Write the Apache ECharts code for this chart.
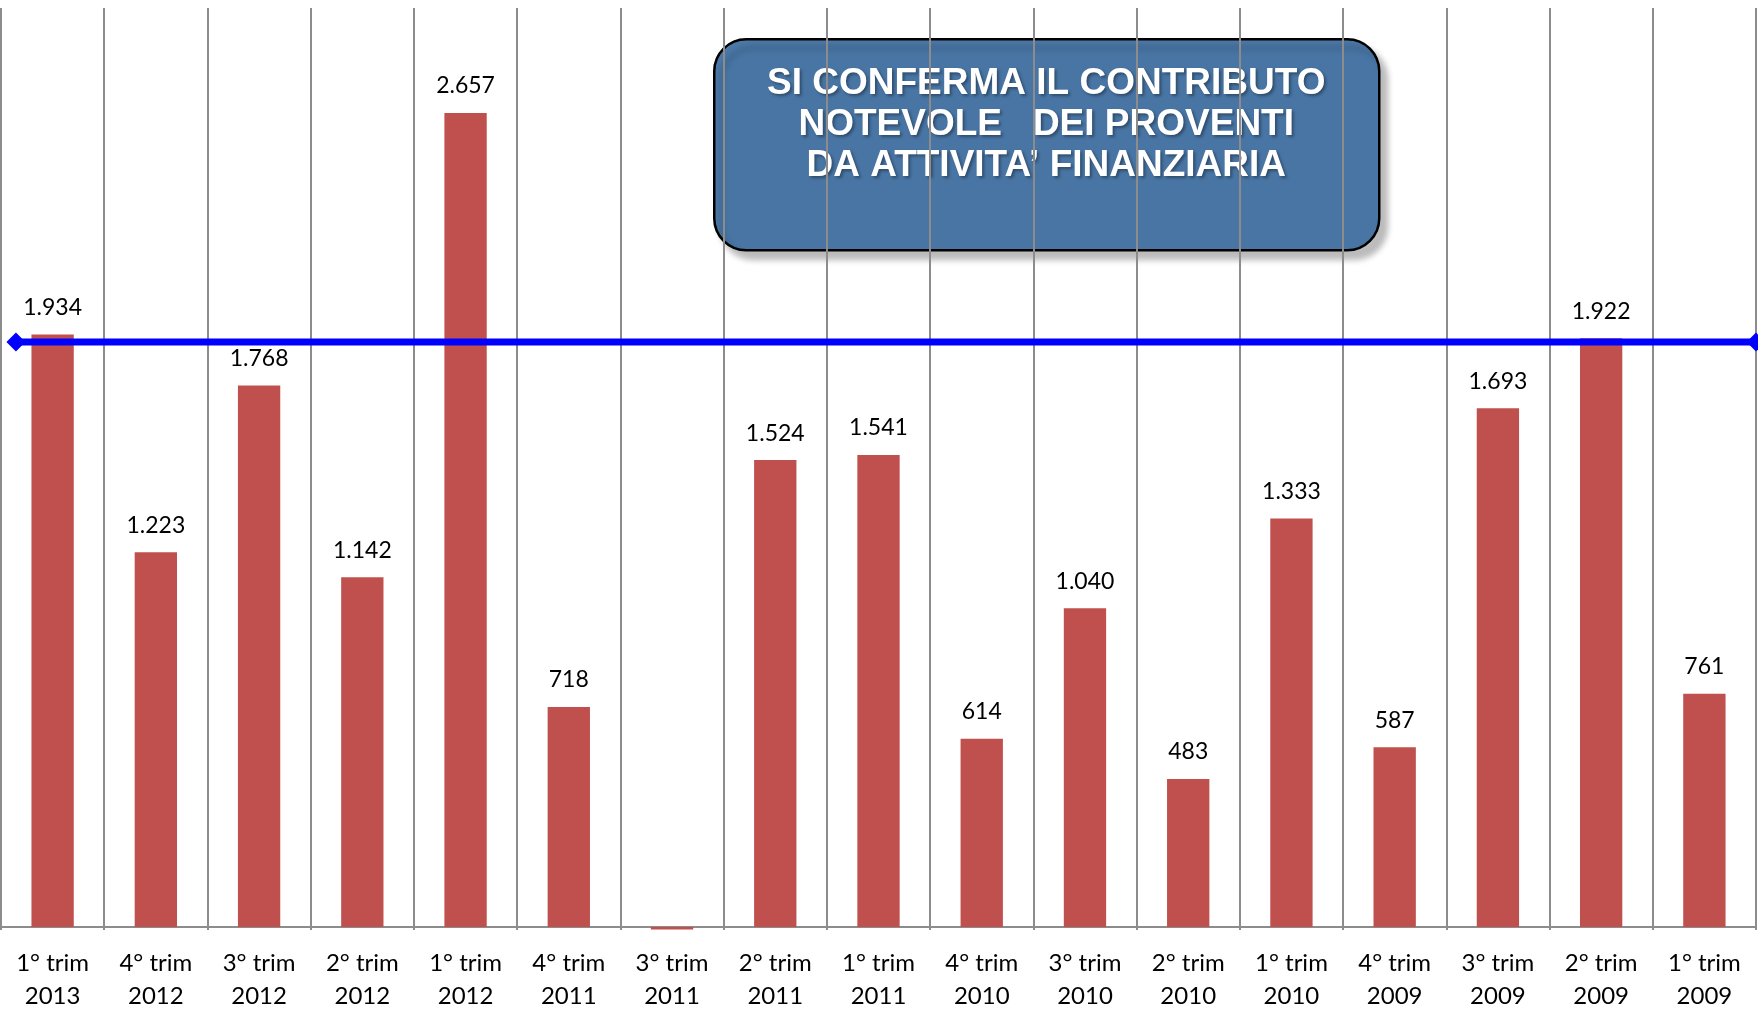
<!DOCTYPE html>
<html>
<head>
<meta charset="utf-8">
<script src="https://cdn.jsdelivr.net/npm/echarts@6/dist/echarts.min.js"></script>
<style>
  html, body { margin: 0; padding: 0; background: #fff; }
  #main { width: 1758px; height: 1013px; }
</style>
</head>
<body>
<div id="main"></div>
<script>
// trimestri, dal più recente al più vecchio
const quarters = [
  '1° trim\n2013', '4° trim\n2012', '3° trim\n2012', '2° trim\n2012', '1° trim\n2012',
  '4° trim\n2011', '3° trim\n2011', '2° trim\n2011', '1° trim\n2011',
  '4° trim\n2010', '3° trim\n2010', '2° trim\n2010', '1° trim\n2010',
  '4° trim\n2009', '3° trim\n2009', '2° trim\n2009', '1° trim\n2009'
];
// proventi da attività finanziaria
const proventi = [1934, 1223, 1768, 1142, 2657, 718, -8, 1524, 1541, 614, 1040, 483, 1333, 587, 1693, 1922, 761];
// linea di riferimento (asse secondario 0..100)
const refLevel = [1910, 1910];
const refPos = [0.85, 100];

const boxTitle = 'SI CONFERMA IL CONTRIBUTO\nNOTEVOLE   DEI PROVENTI\nDA ATTIVITA\u2019 FINANZIARIA';

function fmt(v) {
  return String(v).replace(/\B(?=(\d{3})+(?!\d))/g, '.');
}

var myChart = echarts.init(document.getElementById('main'));

var option = {
  animation: false,
  backgroundColor: '#fff',
  textStyle: { fontFamily: 'Lato' },
  grid: { left: 1, right: 2, top: 8, bottom: 79, containLabel: false },
  xAxis: [{
    type: 'category',
    data: quarters,
    boundaryGap: true,
    axisTick: { show: false },
    axisLine: { onZero: true, lineStyle: { color: '#8c8c8c', width: 2 } },
    splitLine: { show: true, lineStyle: { color: '#8c8c8c', width: 2 } },
    axisLabel: {
      interval: 0, color: '#000', fontFamily: 'Lato', fontSize: 24,
      lineHeight: 33, margin: 17
    }
  }, {
    type: 'value', min: 0, max: 100, show: false
  }],
  yAxis: {
    type: 'value', min: -10, max: 3000, show: false,
    splitLine: { show: false }
  },
  series: [{
    type: 'bar',
    data: proventi,
    barWidth: '41%',
    itemStyle: { color: '#c0504d' },
    label: {
      show: true, position: 'top', distance: 15,
      color: '#000', fontFamily: 'Lato', fontSize: 23, lineHeight: 24,
      formatter: function (p) { return p.value < 0 ? '' : fmt(p.value); }
    },
    z: 2
  }, {
    type: 'line',
    xAxisIndex: 1,
    data: refPos.map(function (x, i) { return [x, refLevel[i]]; }),
    symbol: 'diamond',
    symbolSize: 19,
    showSymbol: true,
    clip: false,
    lineStyle: { color: '#0000ff', width: 7 },
    itemStyle: { color: '#0000ff' },
    z: 5
  }],
  graphic: [{
    type: 'group',
    left: 713,
    top: 38,
    z: 10,
    children: [{
      type: 'rect',
      shape: { x: 0, y: 0, width: 665, height: 211, r: 32 },
      style: {
        fill: 'rgba(62, 111, 161, 0.93)',
        stroke: '#000',
        lineWidth: 2.5,
        shadowColor: 'rgba(0,0,0,0.28)',
        shadowBlur: 6,
        shadowOffsetX: 7,
        shadowOffsetY: 8
      }
    }, {
      type: 'text',
      x: 332,
      y: 86,
      style: {
        text: boxTitle,
        fill: '#fff',
        font: 'bold 37px "Liberation Sans", Arial, sans-serif',
        lineHeight: 41,
        align: 'center',
        verticalAlign: 'middle',
        textShadowColor: 'rgba(0,0,0,0.35)',
        textShadowBlur: 3,
        textShadowOffsetX: 2,
        textShadowOffsetY: 2
      }
    }]
  }]
};

myChart.setOption(option);
</script>
</body>
</html>
